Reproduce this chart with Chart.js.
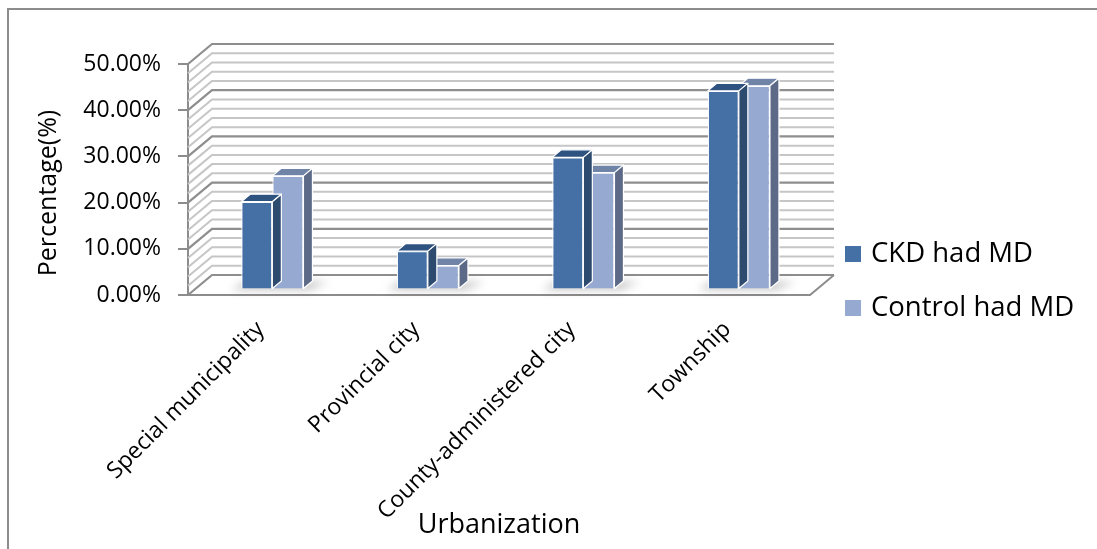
<!DOCTYPE html>
<html>
<head>
<meta charset="utf-8">
<title>Urbanization</title>
<script src="https://cdn.jsdelivr.net/npm/chart.js@4.4.1/dist/chart.umd.min.js"></script>
<style>
  html, body { margin: 0; padding: 0; background: #fff; overflow: hidden; }
  #wrap { width: 1097px; height: 549px; position: relative; }
</style>
</head>
<body>
<div id="wrap"><canvas id="grafico"></canvas></div>
<script>
// Percentage of each group that had MD, by urbanization level
const categories = ["Special municipality", "Provincial city", "County-administered city", "Township"];
const seriesNames = ["CKD had MD", "Control had MD"];
const ckdHadMD = [19.0, 8.3, 28.6, 43.0];
const controlHadMD = [24.6, 5.2, 25.3, 44.1];
const yTicks = [0, 10, 20, 30, 40, 50];
const yTitle = "Percentage(%)";

// fake 3D: how far the back wall sits from the front plane
const DEPTH_X = 24;
const DEPTH_Y = -20;
// bars occupy this slice of the depth
const BAR_FRONT = 0.275;
const BAR_BACK = 0.65;

const FONT = "'Open Sans', 'Noto Sans', sans-serif";

const colores = [
  { front: "#4470a6", top: "#2f5381", side: "#2d4a6f" },
  { front: "#95a9d1", top: "#7084a8", side: "#5c6a88" }
];

function poly(ctx, pts) {
  ctx.beginPath();
  ctx.moveTo(pts[0][0], pts[0][1]);
  for (let i = 1; i < pts.length; i++) ctx.lineTo(pts[i][0], pts[i][1]);
  ctx.closePath();
}

const caja3D = {
  id: "caja3D",
  beforeDraw(chart) {
    const ctx = chart.ctx;
    ctx.save();
    ctx.fillStyle = "#fff";
    ctx.fillRect(0, 0, chart.width, chart.height);
    // frame around the whole chart (left + top edges)
    ctx.strokeStyle = "#8c8c8c";
    ctx.lineWidth = 2;
    ctx.beginPath();
    ctx.moveTo(8, chart.height);
    ctx.lineTo(8, 9);
    ctx.lineTo(chart.width, 9);
    ctx.stroke();
    ctx.restore();
  },
  beforeDatasetsDraw(chart) {
    const { ctx, chartArea: a, scales: { y } } = chart;
    const y0 = y.getPixelForValue(0);
    ctx.save();

    // floor
    poly(ctx, [[a.left, y0], [a.right, y0], [a.right + DEPTH_X, y0 + DEPTH_Y], [a.left + DEPTH_X, y0 + DEPTH_Y]]);
    ctx.fillStyle = "#ffffff";
    ctx.fill();

    // gridlines on the back wall and the left wall, every 2%
    const max = yTicks[yTicks.length - 1];
    ["minor", "major"].forEach(pase => {
      for (let v = 0; v <= max; v += 2) {
        const esMayor = v % 10 === 0;
        if ((pase === "major") !== esMayor) continue;
        const yf = y.getPixelForValue(v);
        ctx.strokeStyle = esMayor ? "#8e8e8e" : "#c6c6c6";
        ctx.lineWidth = esMayor ? 2.2 : 2;
        ctx.beginPath();
        ctx.moveTo(a.left, yf);
        ctx.lineTo(a.left + DEPTH_X, yf + DEPTH_Y);
        ctx.lineTo(a.right + DEPTH_X, yf + DEPTH_Y);
        ctx.stroke();
      }
    });

    // floor edges
    ctx.strokeStyle = "#8c8c8c";
    ctx.lineWidth = 2;
    ctx.beginPath();
    ctx.moveTo(a.left, y0);
    ctx.lineTo(a.right, y0);
    ctx.lineTo(a.right + DEPTH_X, y0 + DEPTH_Y);
    ctx.stroke();

    // soft shadow under each pair of bars
    const meta0 = chart.getDatasetMeta(0);
    const meta1 = chart.getDatasetMeta(1);
    ctx.filter = "blur(4px)";
    ctx.fillStyle = "rgba(0,0,0,0.25)";
    meta0.data.forEach((b, i) => {
      const c = meta1.data[i];
      const l = b.x - b.width / 2 + BAR_FRONT * DEPTH_X;
      const r = c.x + c.width / 2 + BAR_FRONT * DEPTH_X;
      const fy = y0 + BAR_FRONT * DEPTH_Y;
      const d = (BAR_BACK - BAR_FRONT);
      poly(ctx, [[l - 10, fy], [r + 6, fy], [r + d * DEPTH_X + 16, fy + d * DEPTH_Y], [l + 4, fy + d * DEPTH_Y]]);
      ctx.fill();
    });
    ctx.filter = "none";
    ctx.restore();
  },
  beforeDatasetDraw(chart) {
    chart.ctx.save();
    chart.ctx.translate(BAR_FRONT * DEPTH_X, BAR_FRONT * DEPTH_Y);
  },
  afterDatasetDraw(chart, args) {
    const ctx = chart.ctx;
    ctx.restore();
    const col = colores[args.index];
    const ox = BAR_FRONT * DEPTH_X, oy = BAR_FRONT * DEPTH_Y;
    const dx = (BAR_BACK - BAR_FRONT) * DEPTH_X, dy = (BAR_BACK - BAR_FRONT) * DEPTH_Y;
    ctx.save();
    ctx.strokeStyle = "#ffffff";
    ctx.lineWidth = 1.2;
    ctx.lineJoin = "round";
    args.meta.data.forEach(bar => {
      const l = bar.x - bar.width / 2 + ox;
      const r = bar.x + bar.width / 2 + ox;
      const t = bar.y + oy;
      const b = bar.base + oy;
      poly(ctx, [[l, t], [r, t], [r + dx, t + dy], [l + dx, t + dy]]);
      ctx.fillStyle = col.top;
      ctx.fill();
      ctx.stroke();
      poly(ctx, [[r, t], [r + dx, t + dy], [r + dx, b + dy], [r, b]]);
      ctx.fillStyle = col.side;
      ctx.fill();
      ctx.stroke();
    });
    ctx.restore();
  },
  afterDraw(chart) {
    const ctx = chart.ctx;
    ctx.save();
    ctx.fillStyle = "#000";
    ctx.textBaseline = "middle";

    // y axis title, centred a bit lower than the plot middle
    ctx.font = "25px " + FONT;
    ctx.textAlign = "center";
    ctx.save();
    ctx.translate(49, 193);
    ctx.rotate(-Math.PI / 2);
    ctx.fillText(yTitle, 0, 0);
    ctx.restore();

    // legend on the right
    ctx.font = "27.5px " + FONT;
    ctx.textAlign = "left";
    chart.data.datasets.forEach((ds, i) => {
      const cy = 254 + i * 54;
      ctx.fillStyle = colores[i].front;
      ctx.fillRect(845, cy - 8, 16, 16);
      ctx.fillStyle = "#000";
      ctx.fillText(ds.label, 871, cy);
    });
    ctx.restore();
  }
};

new Chart(document.getElementById("grafico"), {
  type: "bar",
  data: {
    labels: categories,
    datasets: [
      {
        label: seriesNames[0],
        data: ckdHadMD,
        backgroundColor: colores[0].front,
        borderColor: "#ffffff",
        borderWidth: 1.2,
        clip: false
      },
      {
        label: seriesNames[1],
        data: controlHadMD,
        backgroundColor: colores[1].front,
        borderColor: "#ffffff",
        borderWidth: 1.2,
        clip: false
      }
    ]
  },
  options: {
    responsive: true,
    maintainAspectRatio: false,
    animation: false,
    categoryPercentage: 0.4,
    barPercentage: 1.0,
    layout: { padding: { left: 20, top: 64, right: 287, bottom: 0 } },
    plugins: {
      legend: { display: false },
      tooltip: { enabled: false }
    },
    scales: {
      x: {
        grid: { display: false, drawTicks: false },
        border: { display: false },
        ticks: {
          autoSkip: false,
          maxRotation: 45,
          minRotation: 45,
          labelOffset: -5,
          padding: 21,
          color: "#000",
          font: { family: FONT, size: 23 }
        },
        title: {
          display: true,
          text: "Urbanization",
          color: "#000",
          font: { family: FONT, size: 27 },
          padding: { top: 0, bottom: 7 }
        },
        afterFit(scale) { scale.height = 254; }
      },
      y: {
        min: yTicks[0],
        max: yTicks[yTicks.length - 1],
        afterBuildTicks(scale) { scale.ticks = yTicks.map(v => ({ value: v })); },
        grid: { drawOnChartArea: false, drawTicks: true, tickLength: 10, color: "#8c8c8c", lineWidth: 2 },
        border: { display: true, color: "#8c8c8c", width: 2 },
        ticks: {
          padding: 17,
          color: "#000",
          font: { family: FONT, size: 23 },
          callback: v => v.toFixed(2) + "%"
        },
        afterFit(scale) { scale.width = 168; }
      }
    }
  },
  plugins: [caja3D]
});
</script>
</body>
</html>
